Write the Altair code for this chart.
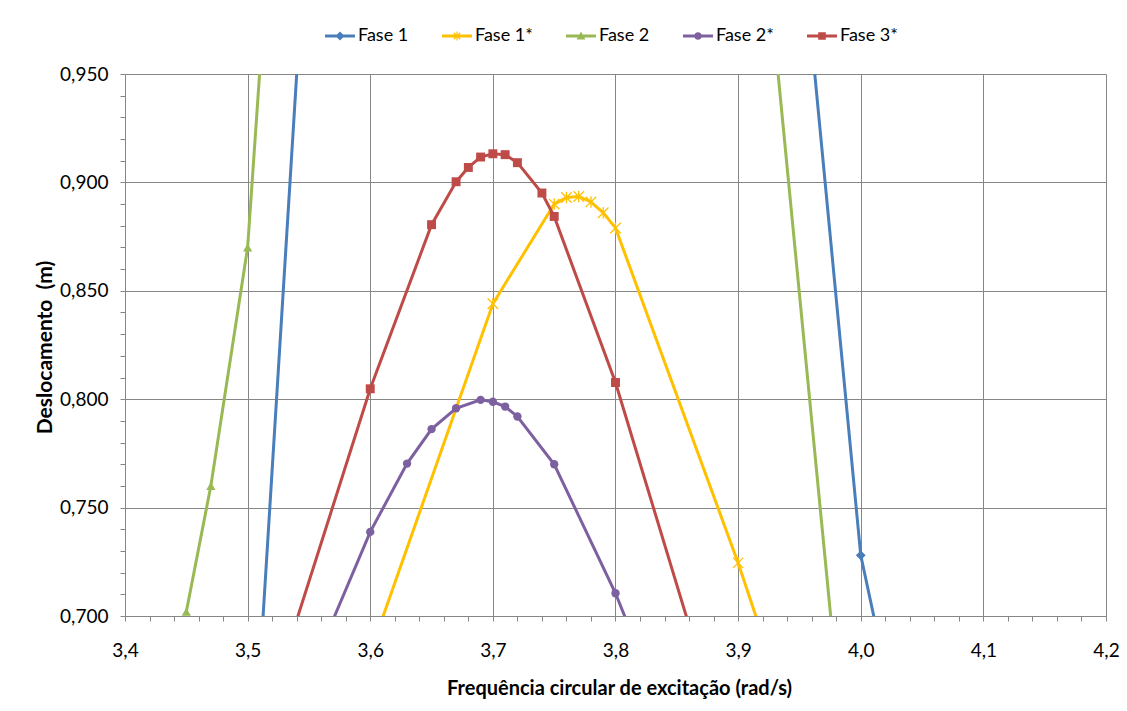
import math
import altair as alt
import pandas as pd

# ---------------- data ----------------
series_names = ["Fase 1", "Fase 1*", "Fase 2", "Fase 2*", "Fase 3*"]
series_colors = ["#4A7EBB", "#FFC000", "#98B954", "#7D60A0", "#BE4B48"]

fase1_x = [3.50, 3.55, 3.95, 4.00, 4.05]
fase1_y = [0.585, 1.041, 1.024, 0.728, 0.596]

fase1s_x = [3.60, 3.70, 3.75, 3.76, 3.77, 3.78, 3.79, 3.80, 3.90, 4.00]
fase1s_y = [0.683, 0.844, 0.890, 0.893, 0.8935, 0.891, 0.886, 0.879, 0.7245, 0.555]

fase2_x = [3.45, 3.47, 3.50, 3.52, 3.90, 4.00]
fase2_y = [0.702, 0.760, 0.870, 1.034, 1.140, 0.557]

fase2s_x = [3.55, 3.60, 3.63, 3.65, 3.67, 3.69, 3.70, 3.71, 3.72, 3.75, 3.80, 3.85]
fase2s_y = [0.672, 0.7388, 0.7703, 0.7862, 0.7958, 0.7997, 0.7988, 0.7966, 0.792, 0.770, 0.7105, 0.640]

fase3s_x = [3.50, 3.60, 3.65, 3.67, 3.68, 3.69, 3.70, 3.71, 3.72, 3.74, 3.75, 3.80, 3.90]
fase3s_y = [0.627, 0.8048, 0.8805, 0.9003, 0.9069, 0.9117, 0.9132, 0.9128, 0.9091, 0.8951, 0.8843, 0.8077, 0.621]

series_x = [fase1_x, fase1s_x, fase2_x, fase2s_x, fase3s_x]
series_y = [fase1_y, fase1s_y, fase2_y, fase2s_y, fase3s_y]

x_domain = [3.4, 4.2]
y_domain = [0.70, 0.95]
x_ticks = [round(3.4 + i * 0.02, 2) for i in range(41)]
y_ticks = [round(0.70 + i * 0.01, 2) for i in range(26)]

# ---------------- styling helpers ----------------
FONT = "Lato"
GRID = "#868686"

ASTERISK = "M-1,-1L1,1M-1,1L1,-1M0,-1.1L0,1.1"
marker_shapes = ["diamond", ASTERISK, "triangle-up", "circle", "square"]
marker_sizes = [95, 110, 85, 70, 80]
marker_filled = [True, False, True, True, True]


def poly(pts):
    return "M" + "L".join(f"{a:.3f},{b:.3f}" for a, b in pts) + "Z"


def bar(angle_deg, half_len=1.15, half_w=0.14):
    a = math.radians(angle_deg)
    dx, dy = math.cos(a), math.sin(a)
    nx, ny = -dy, dx
    return poly([
        (-half_len * dx - half_w * nx, -half_len * dy - half_w * ny),
        (half_len * dx - half_w * nx, half_len * dy - half_w * ny),
        (half_len * dx + half_w * nx, half_len * dy + half_w * ny),
        (-half_len * dx + half_w * nx, -half_len * dy + half_w * ny),
    ])


line_piece = poly([(-3.75, -0.36), (3.75, -0.36), (3.75, 0.36), (-3.75, 0.36)])
legend_paths = [
    line_piece + poly([(0, -1.15), (1.15, 0), (0, 1.15), (-1.15, 0)]),
    line_piece + bar(90) + bar(45) + bar(135),
    line_piece + poly([(0, -1.1), (1.1, 0.9), (-1.1, 0.9)]),
    line_piece + poly([(0.95 * math.cos(2 * math.pi * k / 16), 0.95 * math.sin(2 * math.pi * k / 16)) for k in range(16)]),
    line_piece + poly([(-0.95, -0.95), (0.95, -0.95), (0.95, 0.95), (-0.95, 0.95)]),
]

# ---------------- table ----------------
frames = []
for name, xs, ys in zip(series_names, series_x, series_y):
    frames.append(pd.DataFrame({"x": xs, "y": ys, "series": name}))
df = pd.concat(frames, ignore_index=True)

x_axis = alt.Axis(
    values=x_ticks,
    labelExpr="round(datum.value*50)%5==0 ? replace(format(datum.value,'.1f'),'.',',') : ''",
    title="Frequência circular de excitação (rad/s)",
    titleFont=FONT, titleFontSize=20, titleFontWeight="bold", titleColor="black",
    titleX=494, titleY=72, titleBaseline="middle", titleAlign="center",
    labelFont=FONT, labelFontSize=19, labelColor="black",
    labelBaseline="middle", labelPadding=29, labelOverlap=False, labelFlush=False,
    tickSize=5, tickColor=GRID, tickWidth=1,
    domainColor=GRID, domainWidth=1,
    gridColor=GRID, gridWidth=1,
    gridOpacity={"condition": {"test": "round(datum.value*50)%5==0", "value": 1}, "value": 0},
)
y_axis = alt.Axis(
    values=y_ticks,
    labelExpr="round(datum.value*100)%5==0 ? replace(format(datum.value,'.3f'),'.',',') : ''",
    title="Deslocamento\u00a0 (m)",
    titleFont=FONT, titleFontSize=21, titleFontWeight="bold", titleColor="black",
    titleX=-80, titleY=273, titleBaseline="middle", titleAlign="center", titleAngle=270,
    labelFont=FONT, labelFontSize=19, labelColor="black",
    labelPadding=12, labelOverlap=False, labelFlush=False,
    tickSize=5, tickColor=GRID, tickWidth=1,
    domainColor=GRID, domainWidth=1,
    gridColor=GRID, gridWidth=1,
    gridOpacity={"condition": {"test": "round(datum.value*100)%5==0", "value": 1}, "value": 0},
)

x_enc = alt.X("x:Q", scale=alt.Scale(domain=x_domain, nice=False, zero=False), axis=x_axis)
y_enc = alt.Y("y:Q", scale=alt.Scale(domain=y_domain, nice=False, zero=False), axis=y_axis)

layers = []
for i, name in enumerate(series_names):
    base = alt.Chart(df).transform_filter(alt.datum.series == name)
    line = base.mark_line(clip=True, strokeWidth=3, color=series_colors[i]).encode(x=x_enc, y=y_enc)
    if marker_filled[i]:
        pts = base.mark_point(clip=True, filled=True, opacity=1, shape=marker_shapes[i],
                              size=marker_sizes[i], color=series_colors[i])
    else:
        pts = base.mark_point(clip=True, filled=False, opacity=1, shape=marker_shapes[i],
                              size=marker_sizes[i], color=series_colors[i], strokeWidth=1.3)
    layers += [line, pts.encode(x=x_enc, y=y_enc)]

legend_layer = alt.Chart(df).mark_point(clip=True, filled=True, opacity=0).encode(
    x=x_enc,
    y=y_enc,
    color=alt.Color("series:N", scale=alt.Scale(domain=series_names, range=series_colors),
                    legend=alt.Legend(title=None, orient="none", direction="horizontal",
                                      legendX=201, legendY=-47,
                                      symbolSize=64, symbolOpacity=1, symbolStrokeWidth=0,
                                      symbolOffset=5, labelOffset=9, columnPadding=33,
                                      labelFont=FONT, labelFontSize=18, labelColor="black")),
    shape=alt.Shape("series:N", scale=alt.Scale(domain=series_names, range=legend_paths), legend=None),
)
layers.append(legend_layer)

chart = alt.layer(*layers).properties(
    width=981,
    height=542,
    autosize=alt.AutoSizeParams(type="none"),
    padding={"left": 125, "top": 74, "right": 21, "bottom": 95},
    background="white",
).configure_view(strokeWidth=0)

chart.save("out.html", embed_options={"renderer": "svg", "actions": False})
